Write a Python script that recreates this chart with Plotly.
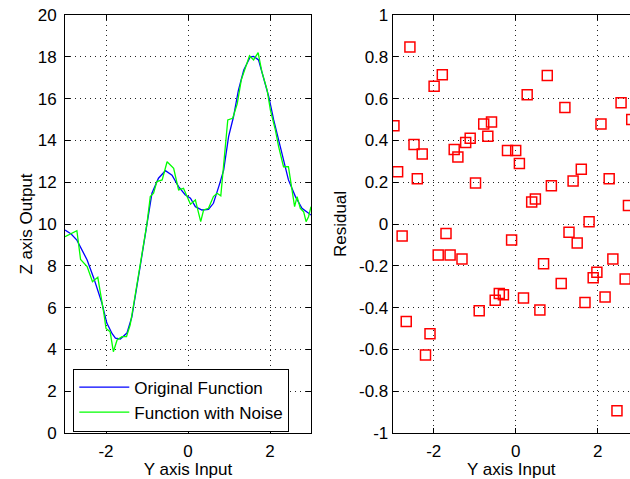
import plotly.graph_objects as go

# ---------------- data ----------------
orig_x = [-3.0, -2.85, -2.71, -2.46, -2.30, -2.10, -1.98, -1.85, -1.77, -1.65, -1.49, -1.37,
          -1.16, -1.0, -0.88, -0.72, -0.55, -0.39, -0.23, -0.07, 0.06, 0.18, 0.34, 0.50,
          0.62, 0.75, 0.87, 0.99, 1.11, 1.23, 1.36, 1.52, 1.60, 1.72, 1.84, 1.97, 2.09,
          2.21, 2.33, 2.45, 2.62, 2.78, 3.0]
orig_z = [9.71, 9.52, 9.23, 8.28, 7.42, 6.22, 5.26, 4.75, 4.54, 4.50, 4.78, 5.55,
          8.05, 10.1, 11.47, 12.19, 12.55, 12.34, 11.79, 11.4, 11.23, 10.83, 10.67, 10.70,
          10.99, 11.79, 12.58, 14.18, 15.13, 16.41, 17.37, 18.0, 18.02, 17.85, 17.05, 16.09, 14.98,
          14.02, 13.06, 12.11, 11.31, 10.75, 10.43]

noisy_x = [-3.0, -2.71, -2.62, -2.53, -2.46, -2.33, -2.20, -2.05, -2.0, -1.90, -1.82, -1.73,
           -1.61, -1.50, -1.41, -1.33, -1.20, -1.0, -0.92, -0.84, -0.76, -0.63, -0.51, -0.35,
           -0.23, -0.11, 0.06, 0.18, 0.26, 0.31, 0.38, 0.50, 0.62, 0.71, 0.80, 0.91, 0.97,
           1.09, 1.20, 1.30, 1.40, 1.50, 1.60, 1.71, 1.80, 1.93, 2.01, 2.13, 2.21, 2.33,
           2.45, 2.54, 2.60, 2.66, 2.74, 2.82, 2.88, 2.94, 3.0]
noisy_z = [9.39, 9.68, 8.30, 8.12, 7.96, 7.24, 7.45, 5.70, 5.0, 4.85, 3.89, 4.45,
           4.61, 4.61, 5.17, 6.1, 7.64, 10.03, 11.31, 11.47, 12.03, 12.11, 12.98, 12.66,
           11.63, 11.71, 10.95, 11.15, 10.51, 10.11, 10.67, 10.75, 11.31, 11.47, 11.35, 13.54, 14.98,
           15.06, 15.75, 16.9, 17.45, 18.05, 17.85, 18.2, 17.3, 16.41, 15.45, 14.5, 13.7, 12.74,
           12.74, 11.55, 10.83, 11.31, 10.75, 10.59, 10.11, 10.35, 10.83]

res_x = [-2.97, -2.88, -2.77, -2.67, -2.58, -2.48, -2.40, -2.28, -2.20, -2.09, -1.99, -1.89,
         -1.79, -1.70, -1.60, -1.50, -1.41, -1.31, -1.22, -1.11, -0.98, -0.89, -0.78, -0.68,
         -0.59, -0.50, -0.40, -0.30, -0.20, -0.10, 0.0, 0.09, 0.19, 0.28, 0.39, 0.48, 0.59,
         0.68, 0.77, 0.87, 1.11, 1.20, 1.30, 1.40, 1.50, 1.60, 1.69, 1.79, 1.89, 1.98,
         2.08, 2.18, 2.28, 2.37, 2.47, 2.57, 2.67, 2.75, 2.83]
res_r = [0.47, 0.25, -0.057, -0.467, 0.847, 0.38, 0.217, 0.335, -0.627, -0.525, 0.659, -0.148,
         0.714, -0.046, -0.148, 0.357, 0.32, -0.167, 0.39, 0.41, 0.196, -0.415, 0.478, 0.42,
         0.488, -0.365, -0.333, -0.338, 0.352, -0.077, 0.352, 0.29, -0.354, 0.619, 0.105, 0.12, -0.411,
         -0.19, 0.71, 0.183, -0.285, 0.558, -0.04, 0.206, -0.091, 0.262, -0.376, 0.011, -0.257, -0.231,
         0.478, -0.349, 0.217, -0.167, -0.893, 0.58, -0.263, 0.089, 0.50]

x_tick_vals = [-2, 0, 2]
x_tick_text = ["-2", "0", "2"]
z_tick_vals = [0, 2, 4, 6, 8, 10, 12, 14, 16, 18, 20]
z_tick_text = ["0", "2", "4", "6", "8", "10", "12", "14", "16", "18", "20"]
r_tick_vals = [-1, -0.8, -0.6, -0.4, -0.2, 0, 0.2, 0.4, 0.6, 0.8, 1]
r_tick_text = ["-1", "-0.8", "-0.6", "-0.4", "-0.2", "0", "0.2", "0.4", "0.6", "0.8", "1"]

# ---------------- figure ----------------
W, H = 630, 479
FONT = "Liberation Sans, Arial, sans-serif"
fs = 17

fig = go.Figure()
fig.add_trace(go.Scatter(x=orig_x, y=orig_z, mode="lines", name="Original Function",
                         line=dict(color="#0000ff", width=1.3), xaxis="x", yaxis="y"))
fig.add_trace(go.Scatter(x=noisy_x, y=noisy_z, mode="lines", name="Function with Noise",
                         line=dict(color="#00ff00", width=1.3), xaxis="x", yaxis="y"))
fig.add_trace(go.Scatter(x=res_x, y=res_r, mode="markers", showlegend=False,
                         marker=dict(symbol="square-open", size=10, color="#ff0000",
                                     line=dict(color="#ff0000", width=1.5)),
                         xaxis="x2", yaxis="y2"))

common = dict(showline=True, linecolor="#000000", linewidth=1, automargin=False,
              ticks="inside", ticklen=5, tickcolor="#000000", tickwidth=1,
              showgrid=True, gridcolor="#222222", gridwidth=1, griddash="1px,4px",
              zeroline=False, tickfont=dict(family=FONT, size=fs, color="#000000"),
              title_font=dict(family=FONT, size=fs, color="#000000"))

ydom = [1 - 433 / H, 1 - 15 / H]

fig.update_layout(
    width=W, height=H, margin=dict(l=0, r=0, t=0, b=0, autoexpand=False),
    paper_bgcolor="white", plot_bgcolor="white",
    font=dict(family=FONT, size=fs, color="#000000"),
    xaxis=dict(common, domain=[65 / W, 311 / W], range=[-3, 3], anchor="y",
               tickvals=x_tick_vals, ticktext=x_tick_text, mirror="ticks",
               ticklabelstandoff=3,
               title=dict(text="Y axis Input", standoff=5)),
    yaxis=dict(common, domain=ydom, range=[0, 20], anchor="x",
               tickvals=z_tick_vals, ticktext=z_tick_text, mirror="ticks",
               ticklabelstandoff=4,
               title=dict(text="Z axis Output", standoff=0)),
    xaxis2=dict(common, domain=[392.7 / W, 1.0], range=[-3, (630 - 515.7) / 41], anchor="y2",
                tickvals=x_tick_vals, ticktext=x_tick_text, mirror="ticks",
                ticklabelstandoff=3,
                title=dict(text="Y axis Input", standoff=5)),
    yaxis2=dict(common, domain=ydom, range=[-1, 1], anchor="x2",
                tickvals=r_tick_vals, ticktext=r_tick_text, mirror=False,
                title=dict(text="Residual", standoff=8)),
    legend=dict(x=73.3 / W, y=1 - 400 / H, xanchor="left", yanchor="middle",
                bgcolor="white", bordercolor="#000000", borderwidth=1,
                font=dict(family=FONT, size=fs, color="#000000"),
                tracegroupgap=0, itemwidth=50),
    showlegend=True,
)

fig.write_html("out.html")
